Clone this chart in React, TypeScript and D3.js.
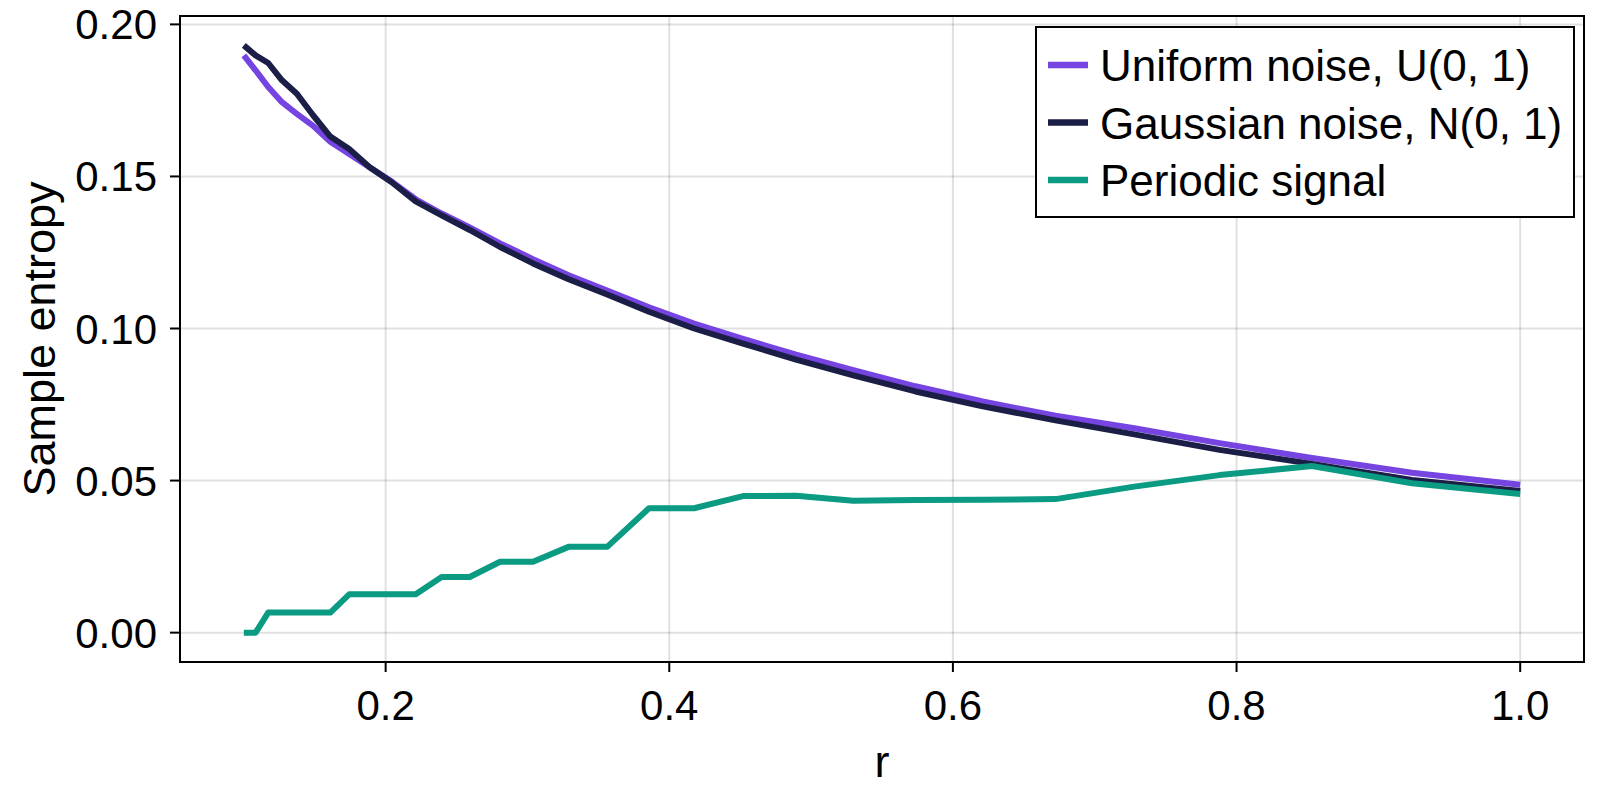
import React, { useEffect, useRef } from 'react';
import * as d3 from 'd3';

// radius values (log spaced)
const rValues = [
  0.1, 0.1083, 0.1172, 0.1269, 0.1374, 0.1487, 0.161, 0.1743, 0.1887, 0.2043,
  0.2212, 0.2395, 0.2593, 0.2807, 0.3039, 0.329, 0.3562, 0.3857, 0.4175, 0.452,
  0.4894, 0.5298, 0.5736, 0.621, 0.6723, 0.7279, 0.788, 0.8532, 0.9237, 1.0,
];

const uniformNoise = [
  0.1898, 0.1849, 0.1794, 0.1744, 0.1706, 0.1667, 0.1614, 0.1574, 0.153, 0.1483,
  0.1425, 0.1378, 0.1332, 0.128, 0.1228, 0.1175, 0.1125, 0.107, 0.1016, 0.0966,
  0.0914, 0.0863, 0.081, 0.076, 0.0713, 0.0672, 0.0623, 0.0574, 0.0526, 0.0486,
];

const gaussianNoise = [
  0.1931, 0.1898, 0.1873, 0.1816, 0.1772, 0.1702, 0.1631, 0.159, 0.153, 0.1481,
  0.1418, 0.1372, 0.1324, 0.1268, 0.1214, 0.1162, 0.1112, 0.1055, 0.1, 0.095,
  0.0898, 0.0846, 0.0793, 0.0744, 0.0698, 0.0652, 0.0601, 0.0555, 0.0502, 0.0466,
];

const periodicSignal = [
  0, 0, 0.0066, 0.0066, 0.0066, 0.0066, 0.0066, 0.0126, 0.0126, 0.0126,
  0.0126, 0.0183, 0.0183, 0.0233, 0.0233, 0.0282, 0.0282, 0.0409, 0.0409, 0.0449,
  0.045, 0.0434, 0.0436, 0.0437, 0.0439, 0.048, 0.0518, 0.0548, 0.0491, 0.0456,
];

const seriesNames = ['Uniform noise, U(0, 1)', 'Gaussian noise, N(0, 1)', 'Periodic signal'];
const seriesColors = ['#7644e0', '#1b1e46', '#0a9b82'];

const xTicks = [0.2, 0.4, 0.6, 0.8, 1.0];
const xTickLabels = ['0.2', '0.4', '0.6', '0.8', '1.0'];
const yTicks = [0, 0.05, 0.1, 0.15, 0.2];
const yTickLabels = ['0.00', '0.05', '0.10', '0.15', '0.20'];

const FONT = '"Liberation Sans", Arial, Helvetica, sans-serif';

const App: React.FC = () => {
  const svgRef = useRef<SVGSVGElement>(null);

  useEffect(() => {
    if (!svgRef.current) return;
    const svg = d3.select(svgRef.current);
    svg.selectAll('*').remove();

    const width = 1600;
    const height = 800;
    const left = 180, right = 1584, top = 16, bottom = 662;

    // Makie style autolimits: 5% margin on each side
    const xExt = d3.extent(rValues) as [number, number];
    const xPad = (xExt[1] - xExt[0]) * 0.05;
    const allY = [...uniformNoise, ...gaussianNoise, ...periodicSignal];
    const yExt = d3.extent(allY) as [number, number];
    const yPad = (yExt[1] - yExt[0]) * 0.05;

    const x = d3.scaleLinear().domain([xExt[0] - xPad, xExt[1] + xPad]).range([left, right]);
    const y = d3.scaleLinear().domain([yExt[0] - yPad, yExt[1] + yPad]).range([bottom, top]);

    svg.attr('width', width).attr('height', height)
      .attr('viewBox', `0 0 ${width} ${height}`)
      .style('background', '#ffffff');

    svg.append('defs').append('clipPath').attr('id', 'plot-clip')
      .append('rect')
      .attr('x', left).attr('y', top)
      .attr('width', right - left).attr('height', bottom - top);

    // grid
    const grid = svg.append('g');
    grid.selectAll('line.vx')
      .data(xTicks)
      .join('line')
      .attr('x1', d => x(d)).attr('x2', d => x(d))
      .attr('y1', top).attr('y2', bottom)
      .attr('stroke', 'rgba(0,0,0,0.12)')
      .attr('stroke-width', 2);
    grid.selectAll('line.hy')
      .data(yTicks)
      .join('line')
      .attr('x1', left).attr('x2', right)
      .attr('y1', d => y(d)).attr('y2', d => y(d))
      .attr('stroke', 'rgba(0,0,0,0.12)')
      .attr('stroke-width', 2);

    // lines
    const series = [uniformNoise, gaussianNoise, periodicSignal];
    const line = d3.line<number>()
      .x((_, i) => x(rValues[i]))
      .y(d => y(d));

    svg.append('g')
      .attr('clip-path', 'url(#plot-clip)')
      .selectAll('path')
      .data(series)
      .join('path')
      .attr('d', d => line(d))
      .attr('fill', 'none')
      .attr('stroke', (_, i) => seriesColors[i])
      .attr('stroke-width', 6)
      .attr('stroke-linejoin', 'round');

    // frame
    svg.append('rect')
      .attr('x', left).attr('y', top)
      .attr('width', right - left).attr('height', bottom - top)
      .attr('fill', 'none')
      .attr('stroke', '#000')
      .attr('stroke-width', 2);

    // x axis ticks + labels
    const xAxis = svg.append('g');
    xAxis.selectAll('line')
      .data(xTicks)
      .join('line')
      .attr('x1', d => x(d)).attr('x2', d => x(d))
      .attr('y1', bottom).attr('y2', bottom + 10)
      .attr('stroke', '#000').attr('stroke-width', 2);
    xAxis.selectAll('text')
      .data(xTicks)
      .join('text')
      .attr('x', d => x(d))
      .attr('y', 720)
      .attr('text-anchor', 'middle')
      .style('font', `42px ${FONT}`)
      .attr('fill', '#000')
      .text((_, i) => xTickLabels[i]);

    // y axis ticks + labels
    const yAxis = svg.append('g');
    yAxis.selectAll('line')
      .data(yTicks)
      .join('line')
      .attr('x1', left - 10).attr('x2', left)
      .attr('y1', d => y(d)).attr('y2', d => y(d))
      .attr('stroke', '#000').attr('stroke-width', 2);
    yAxis.selectAll('text')
      .data(yTicks)
      .join('text')
      .attr('x', 157)
      .attr('y', d => y(d) + 15)
      .attr('text-anchor', 'end')
      .style('font', `42px ${FONT}`)
      .attr('fill', '#000')
      .text((_, i) => yTickLabels[i]);

    // axis titles
    svg.append('text')
      .attr('x', (left + right) / 2)
      .attr('y', 777)
      .attr('text-anchor', 'middle')
      .style('font', `45px ${FONT}`)
      .text('r');
    svg.append('text')
      .attr('transform', `translate(55,${(top + bottom) / 2}) rotate(-90)`)
      .attr('text-anchor', 'middle')
      .style('font', `45px ${FONT}`)
      .text('Sample entropy');

    // legend
    const legend = svg.append('g');
    legend.append('rect')
      .attr('x', 1036).attr('y', 27)
      .attr('width', 1574 - 1036).attr('height', 217 - 27)
      .attr('fill', '#fff')
      .attr('stroke', '#000')
      .attr('stroke-width', 2);
    const rowY = [65, 122.5, 180];
    const rows = legend.selectAll('g.row')
      .data(seriesNames)
      .join('g')
      .attr('transform', (_, i) => `translate(0,${rowY[i]})`);
    rows.append('line')
      .attr('x1', 1048).attr('x2', 1088)
      .attr('y1', 0).attr('y2', 0)
      .attr('stroke', (_, i) => seriesColors[i])
      .attr('stroke-width', 6.5);
    rows.append('text')
      .attr('x', 1100)
      .attr('y', 16)
      .style('font', `44px ${FONT}`)
      .attr('fill', '#000')
      .text(d => d);

    return () => {
      svg.selectAll('*').remove();
    };
  }, []);

  return (
    <div style={{ position: 'absolute', left: 0, top: 0, width: 1600, height: 800, background: '#fff' }}>
      <svg ref={svgRef} style={{ display: 'block' }}></svg>
    </div>
  );
};

export default App;
